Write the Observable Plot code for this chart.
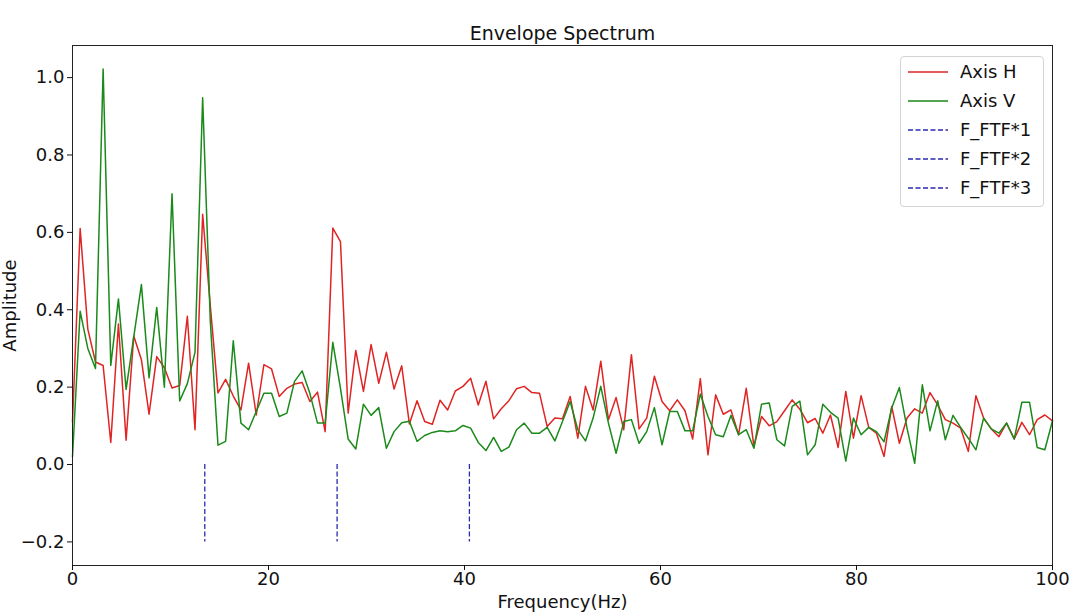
<!DOCTYPE html>
<html><head><meta charset="utf-8">
<script src="https://cdn.jsdelivr.net/npm/d3@7"></script>
<script src="https://cdn.jsdelivr.net/npm/@observablehq/plot@0.6"></script>
<style>
html,body{margin:0;padding:0;background:#fff;}
#wrap{position:relative;width:1080px;height:615px;font-family:"DejaVu Sans",sans-serif;}
#legend{position:absolute;left:900px;top:56px;width:144px;height:151px;box-sizing:border-box;border:1px solid #d3d3d3;border-radius:4px;background:rgba(255,255,255,0.85);}
.lrow{position:absolute;left:0;width:140px;height:24px;}
.lrow svg{position:absolute;left:6px;top:7px;}
.lrow span{position:absolute;left:59px;top:0;font-size:18px;line-height:24px;color:#111;white-space:nowrap;}
</style></head>
<body><div id="wrap"></div>
<script>
// frequency resolution of the spectrum (Hz per bin)
const freqStep = 0.78125;
// Envelope amplitude, Axis H (red)
const ampH = [0.11,0.61,0.35,0.265,0.256,0.057,0.363,0.063,0.332,0.271,0.13,0.279,0.25,0.198,0.204,0.383,0.09,0.647,0.41,0.185,0.22,0.177,0.141,0.262,0.128,0.258,0.247,0.176,0.197,0.208,0.212,0.163,0.187,0.085,0.611,0.576,0.133,0.295,0.189,0.31,0.21,0.29,0.195,0.255,0.105,0.165,0.111,0.104,0.166,0.141,0.19,0.202,0.223,0.154,0.215,0.118,0.144,0.165,0.196,0.202,0.186,0.184,0.098,0.12,0.118,0.176,0.068,0.202,0.141,0.267,0.116,0.173,0.09,0.284,0.092,0.12,0.228,0.163,0.139,0.167,0.139,0.066,0.222,0.025,0.18,0.13,0.141,0.077,0.197,0.047,0.124,0.1,0.111,0.139,0.167,0.143,0.108,0.119,0.081,0.128,0.044,0.189,0.068,0.178,0.096,0.081,0.021,0.15,0.055,0.12,0.144,0.133,0.186,0.154,0.116,0.107,0.094,0.034,0.178,0.12,0.092,0.072,0.107,0.066,0.109,0.077,0.116,0.128,0.113];
// Envelope amplitude, Axis V (green)
const ampV = [0.02,0.396,0.3,0.248,1.022,0.256,0.428,0.194,0.33,0.465,0.224,0.406,0.2,0.70,0.164,0.209,0.29,0.948,0.37,0.05,0.06,0.32,0.107,0.09,0.137,0.184,0.184,0.124,0.133,0.215,0.242,0.184,0.107,0.107,0.316,0.197,0.066,0.04,0.156,0.127,0.147,0.042,0.085,0.108,0.112,0.06,0.075,0.083,0.087,0.085,0.087,0.101,0.094,0.057,0.036,0.07,0.034,0.045,0.09,0.107,0.081,0.081,0.096,0.061,0.111,0.163,0.09,0.061,0.12,0.202,0.107,0.029,0.111,0.116,0.055,0.085,0.147,0.051,0.137,0.137,0.087,0.087,0.182,0.124,0.077,0.072,0.127,0.077,0.09,0.042,0.156,0.159,0.064,0.048,0.15,0.164,0.025,0.051,0.156,0.135,0.12,0.009,0.12,0.077,0.096,0.085,0.059,0.146,0.199,0.094,0.003,0.206,0.087,0.165,0.064,0.127,0.096,0.068,0.038,0.12,0.092,0.081,0.107,0.066,0.161,0.161,0.044,0.038,0.113];
// bearing cage fault frequency and its harmonics
const ftfFreq = 13.5;
const ftfHarmonics = [1, 2, 3];
const ftfLabels = ["F_FTF*1", "F_FTF*2", "F_FTF*3"];
const seriesNames = ["Axis H", "Axis V"];
const seriesColors = ["#e02424", "#1a8a1a"];
const ftfColor = "#2b2bb0";
const xTicks = [0, 20, 40, 60, 80, 100];
const yTicks = [-0.2, 0.0, 0.2, 0.4, 0.6, 0.8, 1.0];

const hRows = ampH.map((a, i) => ({f: i * freqStep, a}));
const vRows = ampV.map((a, i) => ({f: i * freqStep, a}));
const ftfRows = ftfHarmonics.map((h, i) => ({f: ftfFreq * h, label: ftfLabels[i]}));

const chart = Plot.plot({
  width: 1080, height: 615,
  marginLeft: 72, marginRight: 28, marginTop: 45, marginBottom: 50,
  style: {fontFamily: "DejaVu Sans, sans-serif", fontSize: "18px", color: "#111", background: "#fff"},
  x: {domain: [0, 100]},
  y: {domain: [-0.261, 1.083]},
  marks: [
    Plot.ruleX(ftfRows, {x: "f", y1: 0, y2: -0.2, stroke: ftfColor, strokeWidth: 1.3, strokeDasharray: "5,2.5"}),
    Plot.lineY(hRows, {x: "f", y: "a", stroke: seriesColors[0], strokeWidth: 1.5}),
    Plot.lineY(vRows, {x: "f", y: "a", stroke: seriesColors[1], strokeWidth: 1.5}),
    Plot.frame({stroke: "#222", strokeWidth: 1}),
    Plot.axisX({ticks: xTicks, tickSize: 5, tickPadding: 2, fontSize: 18, label: null, tickFormat: d => String(d)}),
    Plot.axisY({ticks: yTicks, tickSize: 5, tickPadding: 3, fontSize: 18, label: null, tickFormat: d => d.toFixed(1).replace("-", "\u2212")}),
    Plot.text(["Envelope Spectrum"], {text: d => d, frameAnchor: "top", lineAnchor: "middle", textAnchor: "middle", dy: -12, fontSize: 19}),
    Plot.text(["Frequency(Hz)"], {text: d => d, frameAnchor: "bottom", lineAnchor: "middle", textAnchor: "middle", dy: 37, fontSize: 18}),
    Plot.text(["Amplitude"], {text: d => d, frameAnchor: "left", lineAnchor: "middle", textAnchor: "middle", dx: -62, rotate: -90, fontSize: 18})
  ]
});
const wrap = document.getElementById("wrap");
wrap.appendChild(chart);

// legend (matplotlib style box)
const legend = document.createElement("div");
legend.id = "legend";
const entries = [
  ...seriesNames.map((n, i) => ({name: n, color: seriesColors[i], dash: null})),
  ...ftfLabels.map(n => ({name: n, color: ftfColor, dash: "5,2.5"}))
];
entries.forEach((e, i) => {
  const row = document.createElement("div");
  row.className = "lrow";
  row.style.top = (3 + i * 29) + "px";
  row.innerHTML = `<svg width="42" height="10"><line x1="1" x2="41" y1="5" y2="5" stroke="${e.color}" stroke-width="${e.dash ? 1.3 : 1.5}" ${e.dash ? `stroke-dasharray="${e.dash}"` : ""}/></svg><span>${e.name}</span>`;
  legend.appendChild(row);
});
wrap.appendChild(legend);
</script>
</body></html>
